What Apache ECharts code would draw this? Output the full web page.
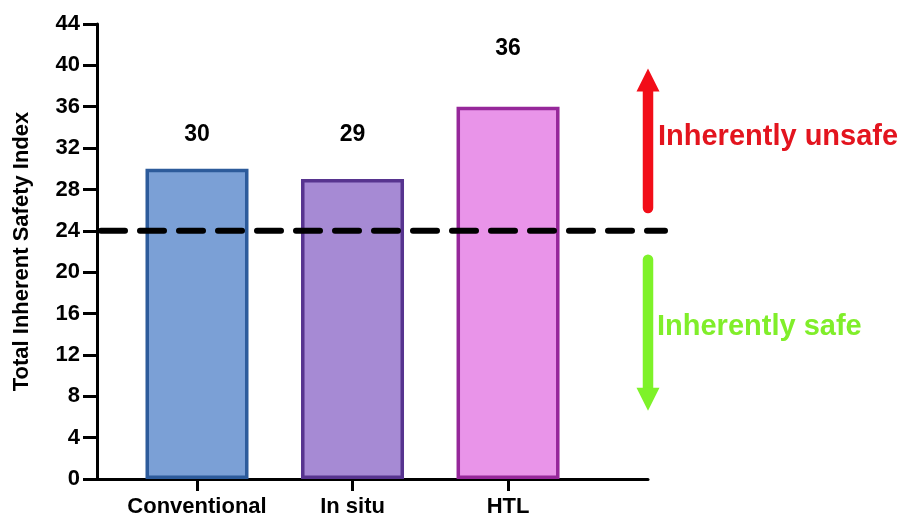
<!DOCTYPE html>
<html><head><meta charset="utf-8">
<script src="https://cdn.jsdelivr.net/npm/echarts@6/dist/echarts.min.js"></script>
<style>html,body{margin:0;padding:0;background:#fff}#c{width:902px;height:518px}</style>
</head><body><div id="c"></div>
<script>
// ---- data ----
const categories = ['Conventional', 'In situ', 'HTL'];
const values = [30, 29, 36];
const positions = [1, 2, 3];
const threshold = 24;
const unsafeArrow = [26.2, 39.7];   // axis units (tail, tip)
const safeArrow = [21.2, 6.6];
const annotationTexts = ['Inherently unsafe', 'Inherently safe'];
const yTitle = 'Total Inherent Safety Index';

// ---- styles ----
const FONT = '"Liberation Sans", Arial, Helvetica, sans-serif';
const fills = ['#7ba0d6', '#a68ad4', '#e994e9'];
const borders = ['#2d5b9b', '#57348f', '#96279a'];
const labelGaps = [23, 33, 47];

const chart = echarts.init(document.getElementById('c'), null, {renderer: 'canvas'});

const option = {
  animation: false,
  backgroundColor: '#fff',
  grid: {left: 97, right: 254, top: 24, bottom: 39, containLabel: false},
  xAxis: {
    type: 'value', min: 0.357, max: 3.9,
    axisLine: {show: true, lineStyle: {color: '#000', width: 3}},
    axisTick: {show: true, customValues: positions, length: 12, lineStyle: {color: '#000', width: 3}},
    axisLabel: {customValues: positions, formatter: v => categories[Math.round(v) - 1],
      color: '#000', fontFamily: FONT, fontWeight: 'bold', fontSize: 22, margin: 17},
    splitLine: {show: false}
  },
  yAxis: {
    type: 'value', min: 0, max: 44, interval: 4,
    name: yTitle, nameLocation: 'middle', nameGap: 64,
    nameTextStyle: {color: '#000', fontFamily: FONT, fontWeight: 'bold', fontSize: 22},
    axisLine: {show: true, lineStyle: {color: '#000', width: 3}},
    axisTick: {show: true, length: 14, lineStyle: {color: '#000', width: 3}},
    axisLabel: {color: '#000', fontFamily: FONT, fontWeight: 'bold', fontSize: 22, margin: 17},
    splitLine: {show: false}
  },
  series: [{
    type: 'bar',
    barWidth: 103,
    data: values.map((v, i) => ({
      value: [positions[i], v],
      itemStyle: {color: fills[i], borderColor: borders[i], borderWidth: 3.5},
      label: {distance: labelGaps[i]}
    })),
    label: {show: true, position: 'top', formatter: p => p.value[1],
      color: '#000', fontFamily: FONT, fontWeight: 'bold', fontSize: 23}
  }]
};
chart.setOption(option);

// annotations placed through the axis scales
const py = v => chart.convertToPixel({yAxisIndex: 0}, v);
const px = v => chart.convertToPixel({xAxisIndex: 0}, v);
const yT = py(threshold);
const xLeft = px(0.357) + 4;
const xRight = px(3.9);
const arrowX = xRight;
const red = '#f20d18', green = '#7ef229';

function arrow(y0, y1, color) {
  const dir = y1 < y0 ? -1 : 1;
  const headLen = 23, headHalf = 11.5;
  const baseY = y1 - dir * headLen;
  return [
    {type: 'line', shape: {x1: arrowX, y1: y0, x2: arrowX, y2: baseY + dir * 2},
      style: {stroke: color, lineWidth: 10.5, lineCap: 'round'}, z: 10},
    {type: 'polygon', shape: {points: [[arrowX, y1], [arrowX - headHalf, baseY], [arrowX + headHalf, baseY]]},
      style: {fill: color}, z: 10}
  ];
}
const ra = unsafeArrow.map(py), ga = safeArrow.map(py);
chart.setOption({
  graphic: [
    {type: 'line', shape: {x1: xLeft, y1: yT, x2: xRight + 17, y2: yT},
      style: {stroke: '#000', lineWidth: 6, lineDash: [24, 15], lineCap: 'round'}, z: 20},
    ...arrow(ra[0], ra[1], red),
    ...arrow(ga[0], ga[1], green),
    {type: 'text', x: arrowX + 10, y: (ra[0] + ra[1]) / 2 - 1,
      style: {text: annotationTexts[0], fill: '#e3141e', font: 'bold 29px ' + FONT, verticalAlign: 'middle'}, z: 10},
    {type: 'text', x: arrowX + 9, y: (ga[0] + ga[1]) / 2 - 8,
      style: {text: annotationTexts[1], fill: '#80ee2a', font: 'bold 29px ' + FONT, verticalAlign: 'middle'}, z: 10}
  ]
});
</script></body></html>
